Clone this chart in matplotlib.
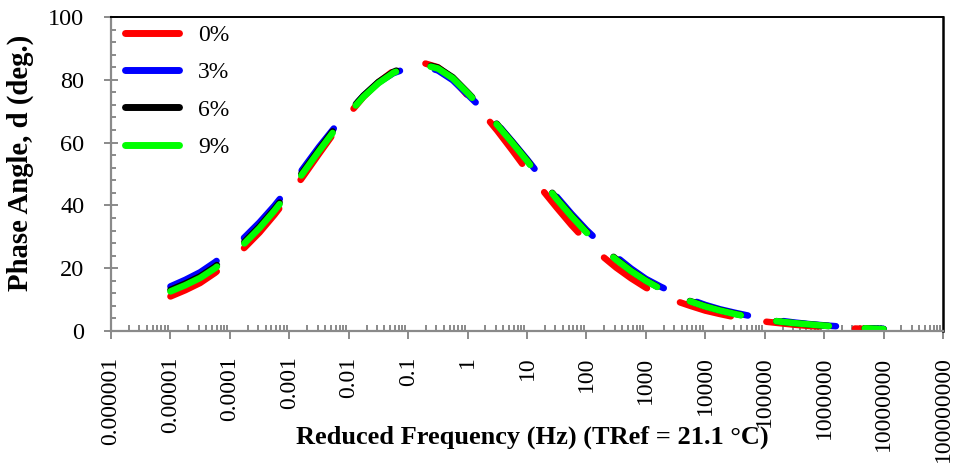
import matplotlib
matplotlib.use("Agg")
import matplotlib.pyplot as plt
from matplotlib.ticker import FixedLocator, FixedFormatter, LogLocator, MultipleLocator, NullFormatter

# ---------------- data ----------------
reduced_freq_hz = [1.0e-5, 1.78e-5, 3.16e-5, 5.62e-5,
                   1.0e-4, 1.78e-4, 3.16e-4, 5.62e-4,
                   1.0e-3, 1.78e-3, 3.16e-3, 5.62e-3,
                   1.0e-2, 1.78e-2, 3.16e-2, 5.62e-2,
                   1.0e-1, 1.78e-1, 3.16e-1, 5.62e-1,
                   1.0, 1.78, 3.16, 5.62,
                   10.0, 17.8, 31.6, 56.2,
                   100.0, 178.0, 316.0, 562.0,
                   1.0e3, 1.78e3, 3.16e3, 5.62e3,
                   1.0e4, 1.78e4, 3.16e4, 5.62e4,
                   1.0e5, 1.78e5, 3.16e5, 5.62e5,
                   1.0e6, 1.78e6, 3.16e6, 5.62e6,
                   1.0e7]

phase_0pct = [11.0, 13.0, 15.3, 18.5, 22.4, 26.6, 31.4, 37.0, 43.1, 49.7, 56.4, 63.0,
              69.0, 74.6, 79.2, 82.8, 85.0, 85.4, 84.0, 80.4, 75.0, 69.5, 63.8, 57.6,
              51.2, 45.1, 39.3, 33.7, 28.6, 24.1, 20.2, 16.8, 13.8, 11.5, 9.6, 8.0,
              6.5, 5.4, 4.4, 3.6, 3.0, 2.5, 2.0, 1.6, 1.3, 1.05, 0.8, 0.65, 0.5]
phase_3pct = [14.2, 16.3, 18.7, 21.9, 25.7, 29.9, 34.6, 39.9, 45.8, 52.2, 58.6, 64.5,
              69.8, 74.9, 79.1, 82.1, 83.8, 84.3, 83.0, 79.9, 75.3, 70.7, 65.9, 60.4,
              54.7, 48.7, 42.8, 37.3, 32.2, 27.7, 23.7, 19.9, 16.6, 14.1, 11.9, 10.0,
              8.3, 6.9, 5.8, 4.8, 3.9, 3.3, 2.7, 2.2, 1.8, 1.45, 1.15, 0.9, 0.7]
phase_6pct = [13.1, 15.1, 17.4, 20.5, 24.3, 28.5, 33.3, 38.8, 44.8, 51.3, 57.8, 64.1,
              69.7, 75.0, 79.3, 82.5, 84.5, 85.1, 83.9, 80.8, 76.0, 71.0, 65.8, 60.2,
              54.4, 48.2, 42.2, 36.7, 31.6, 27.0, 22.9, 19.2, 16.1, 13.5, 11.3, 9.5,
              7.9, 6.6, 5.5, 4.5, 3.7, 3.0, 2.5, 2.1, 1.7, 1.35, 1.05, 0.8, 0.6]
phase_9pct = [12.6, 14.6, 16.9, 20.0, 23.8, 28.0, 32.8, 38.3, 44.3, 50.8, 57.3, 63.6,
              69.3, 74.6, 78.9, 82.2, 84.2, 84.8, 83.6, 80.5, 75.8, 70.8, 65.6, 60.0,
              54.2, 48.0, 42.0, 36.5, 31.4, 26.8, 22.7, 19.1, 16.0, 13.4, 11.2, 9.4,
              7.8, 6.5, 5.4, 4.4, 3.6, 3.0, 2.5, 2.1, 1.7, 1.35, 1.05, 0.8, 0.6]

series_labels = ["0%", "3%", "6%", "9%"]
series_colors = ["#FF0000", "#0000FF", "#000000", "#00FF00"]

xtick_values = [1e-6, 1e-5, 1e-4, 1e-3, 1e-2, 1e-1, 1e0, 1e1, 1e2, 1e3, 1e4, 1e5, 1e6, 1e7, 1e8]
xtick_labels = ["0.000001", "0.00001", "0.0001", "0.001", "0.01", "0.1", "1", "10", "100",
                "1000", "10000", "100000", "1000000", "10000000", "100000000"]
ytick_values = [0, 20, 40, 60, 80, 100]

x_label = "Reduced Frequency (Hz) (TRef = 21.1 °C)"
y_label = "Phase Angle, d (deg.)"

# ---------------- figure ----------------
plt.rcParams["font.family"] = ["Liberation Serif", "DejaVu Serif"]
W, H = 961, 463
fig = plt.figure(figsize=(W / 100, H / 100), dpi=100)
ax = fig.add_axes([111 / W, 1 - 331 / H, (943 - 111) / W, (331 - 17) / H])

gray = "#8a8a8a"
series = [phase_0pct, phase_3pct, phase_6pct, phase_9pct]
for vals, lab, col in zip(series, series_labels, series_colors):
    ax.plot(reduced_freq_hz, vals, color=col, lw=4.7, label=lab,
            linestyle=(0, (8.1, 5.5)), dash_capstyle="round",
            solid_capstyle="round", dash_joinstyle="round")

ax.set_xscale("log")
ax.set_xlim(1e-6, 1e8)
ax.set_ylim(0, 100)

ax.xaxis.set_major_locator(FixedLocator(xtick_values))
ax.xaxis.set_major_formatter(FixedFormatter(xtick_labels))
ax.xaxis.set_minor_locator(LogLocator(base=10, subs=[2, 3, 4, 5, 6, 7, 8, 9], numticks=200))
ax.xaxis.set_minor_formatter(NullFormatter())
ax.yaxis.set_major_locator(FixedLocator(ytick_values))
ax.yaxis.set_minor_locator(MultipleLocator(4))

ax.tick_params(axis="x", which="major", direction="out", length=5.8, width=1.4,
               color=gray, pad=12.5, labelsize=17, labelrotation=90)
ax.tick_params(axis="x", which="minor", direction="in", length=4.0, width=1.4, color=gray)
ax.tick_params(axis="y", which="major", direction="inout", length=9.4, width=1.4,
               color=gray, pad=14.5, labelsize=17.5)
ax.tick_params(axis="y", which="minor", direction="in", length=3.6, width=1.4, color=gray)
ax.tick_params(top=False, right=False)

for s in ("left", "bottom"):
    ax.spines[s].set_color(gray)
    ax.spines[s].set_linewidth(1.6)
ax.spines["top"].set_color("black")
ax.spines["top"].set_linewidth(1.4)
ax.spines["right"].set_color("black")
ax.spines["right"].set_linewidth(1.8)

ax.set_xlabel(x_label, fontsize=19, fontweight="bold")
ax.xaxis.set_label_coords((532 - 111) / 832, (331 - 426) / 314)
ax.set_ylabel(y_label, fontsize=20.7, fontweight="bold")
ax.yaxis.set_label_coords((34 - 111) / 832, (331 - 163) / 314)

leg = ax.legend(loc="upper left", bbox_to_anchor=((125 - 111) / 832, 0.976),
                frameon=False, fontsize=17, handlelength=2.29, handletextpad=0.8,
                labelspacing=0.67, borderpad=0.0, borderaxespad=0.0)
for h in leg.get_lines():
    h.set_linestyle("-")
    h.set_solid_capstyle("round")
    h.set_linewidth(5.0)

fig.savefig("out.png", dpi=100)
